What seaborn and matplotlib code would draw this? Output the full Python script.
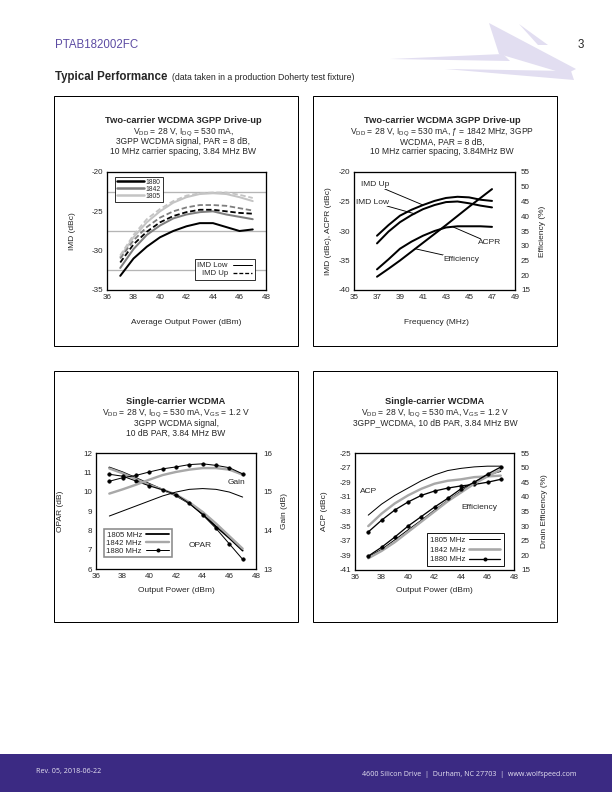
"""
Typical performance page — PTAB182002FC datasheet, page 3
Four drive-up / single-carrier charts laid out as on the printed page.
"""

import matplotlib
matplotlib.use("Agg")
import matplotlib.pyplot as plt
from matplotlib.lines import Line2D
from matplotlib.patches import Rectangle, Polygon
import seaborn as sns

# ---------------------------------------------------------------- data
# chart 1: two-carrier IMD vs average output power
pout = [37, 38, 39, 40, 41, 42, 43, 44, 45, 46, 47]
imd_low_1880 = [-33.2, -31.0, -29.5, -28.3, -27.5, -26.9, -26.5, -26.5, -27.0, -27.5, -27.3]
imd_low_1842 = [-32.2, -29.8, -28.0, -26.8, -25.9, -25.4, -25.1, -25.0, -25.4, -25.7, -26.0]
imd_low_1805 = [-30.8, -28.3, -26.4, -25.0, -23.9, -23.2, -22.8, -22.7, -22.8, -23.2, -23.7]
imd_up_1880 = [-31.5, -29.2, -27.6, -26.4, -25.6, -25.1, -24.8, -24.8, -25.0, -25.2, -25.3]
imd_up_1842 = [-31.0, -28.7, -27.0, -25.8, -25.0, -24.5, -24.2, -24.2, -24.3, -24.6, -24.9]
imd_up_1805 = [-30.6, -28.0, -26.0, -24.7, -23.7, -23.0, -22.7, -22.6, -22.6, -22.9, -23.3]

# chart 2: two-carrier at 1842 MHz
freq_x = [37, 38, 39, 40, 41, 42, 43, 44, 45, 46, 47]
imd_up = [-30.8, -29.0, -27.4, -26.4, -25.6, -24.9, -24.4, -24.2, -24.3, -24.7, -24.9]
imd_low = [-32.1, -30.1, -28.5, -27.3, -26.3, -25.6, -25.1, -25.0, -25.3, -25.7, -26.0]
acpr = [-36.5, -34.8, -33.0, -31.8, -30.8, -30.0, -29.4, -29.2, -29.2, -29.2, -29.3]
efficiency = [19.5, 22.2, 25.0, 28.0, 31.0, 34.0, 37.0, 40.1, 43.2, 46.2, 49.2]

# chart 3: single-carrier OPAR / gain
opar_1805 = [11.25, 11.0, 10.7, 10.4, 10.1, 9.8, 9.4, 8.85, 8.2, 7.6, 6.95]
opar_1842 = [11.2, 10.95, 10.65, 10.35, 10.1, 9.85, 9.45, 8.95, 8.35, 7.7, 7.05]
opar_1880 = [10.9, 10.8, 10.55, 10.3, 10.1, 9.85, 9.4, 8.8, 8.1, 7.3, 6.5]
gain_1805 = [14.37, 14.5, 14.63, 14.76, 14.89, 14.99, 15.06, 15.08, 15.06, 14.99, 14.86]
gain_1842 = [14.95, 15.06, 15.18, 15.31, 15.43, 15.51, 15.57, 15.61, 15.61, 15.57, 15.44]
gain_1880 = [15.27, 15.36, 15.42, 15.51, 15.59, 15.64, 15.70, 15.72, 15.68, 15.62, 15.46]

# chart 4: single-carrier ACP / drain efficiency
acp_1805 = [-33.5, -32.0, -30.8, -29.8, -28.8, -28.0, -27.4, -27.1, -26.9, -26.8, -26.8]
acp_1842 = [-35.0, -33.3, -31.9, -30.8, -29.9, -29.2, -28.8, -28.6, -28.3, -28.2, -28.1]
acp_1880 = [-35.8, -34.2, -32.8, -31.7, -30.8, -30.2, -29.8, -29.5, -29.3, -29.0, -28.6]
deff_1805 = [19.5, 22.0, 25.3, 28.7, 32.0, 35.5, 38.8, 42.0, 45.0, 47.5, 48.7]
deff_1842 = [19.0, 21.5, 24.5, 28.0, 31.5, 35.0, 38.5, 41.5, 44.5, 47.0, 49.3]
deff_1880 = [19.75, 22.75, 26.25, 30.0, 33.25, 36.5, 39.5, 42.75, 45.0, 47.75, 50.2]

BLACK, GRAY, LGRAY = "#000000", "#7f7f7f", "#c4c4c4"
MGRAY = "#a8a8a8"
GRID = "#b5b5b5"
PURPLE = "#3b2a83"

TITLE_FS, SUB_FS, TICK_FS, LABEL_FS, NOTE_FS = 9.3, 8.5, 8.0, 8.4, 8.4

sns.set_style("white")
plt.rcParams["font.family"] = ["Liberation Sans", "DejaVu Sans"]
plt.rcParams["mathtext.default"] = "regular"
plt.rcParams["axes.unicode_minus"] = False

W, H = 612, 792
fig = plt.figure(figsize=(8.5, 11), dpi=72)


def px_axes(l, t, r, b):
    return fig.add_axes([l / W, 1 - b / H, (r - l) / W, (b - t) / H])


def ftext(x, y, s, **kw):
    kw.setdefault("ha", "center")
    kw.setdefault("va", "center")
    fig.text(x / W, 1 - y / H, s, **kw)


def frame(l, t, r, b):
    fig.patches.append(Rectangle((l / W, 1 - b / H), (r - l) / W, (b - t) / H,
                                 transform=fig.transFigure, fill=False,
                                 edgecolor="black", lw=1.0))


def style(ax, xlim, xt, ylim, yt, grid_x, grid_y):
    ax.set_xlim(*xlim)
    ax.set_ylim(*ylim)
    ax.set_xticks(xt)
    ax.set_yticks(yt)
    ax.set_xticks(grid_x, minor=True)
    ax.set_yticks(grid_y, minor=True)
    ax.grid(which="minor", color=GRID, lw=1.3)
    ax.tick_params(which="both", length=0, labelsize=TICK_FS, pad=4)
    for s in ax.spines.values():
        s.set_color("black")
        s.set_linewidth(1.3)
    ax.set_xlabel("")
    ax.set_ylabel("")


def right_axis(ax, lim, ticks, pad):
    ax.set_ylim(*lim)
    ax.set_yticks(ticks)
    ax.tick_params(length=0, labelsize=TICK_FS, pad=pad)
    ax.set_ylabel("")
    for s in ax.spines.values():
        s.set_visible(False)


def line(ax, x, y, color, lw, ls="-", marker=None):
    sns.lineplot(x=x, y=y, ax=ax, color=color, lw=lw, linestyle=ls,
                 marker=marker, markersize=3.4 if marker else 0,
                 markeredgecolor=color, legend=False, zorder=3)


def heading(cx, ty, title, subs):
    ftext(cx, ty, title, fontsize=TITLE_FS, weight="bold")
    for i, s in enumerate(subs):
        ftext(cx, ty + 11.5 + 10 * i, s, fontsize=SUB_FS)


# ---------------------------------------------------------------- page header / footer
ftext(55, 45, "PTAB182002FC", ha="left", fontsize=11.5, color="#5d4ca3")
ftext(584, 45, "3", ha="right", fontsize=11.5)
for pts in ([(390, 59), (503, 54), (510, 61)],
            [(489, 23), (576, 69), (566, 74), (499, 54)],
            [(445, 69), (571, 71), (574, 80)],
            [(519, 24), (548, 45), (538, 45)]):
    fig.patches.append(Polygon([(x / W, 1 - y / H) for x, y in pts], closed=True,
                               transform=fig.transFigure, facecolor="#e2def1",
                               edgecolor="none"))
ftext(55, 77, "Typical Performance", ha="left", fontsize=11.5, weight="bold")
ftext(172, 78, "(data taken in a production Doherty test fixture)", ha="left", fontsize=8.8)

fig.patches.append(Rectangle((0, 0), 1, (H - 754) / H, transform=fig.transFigure,
                             facecolor=PURPLE, edgecolor="none"))
ftext(36, 772, "Rev. 05, 2018-06-22", ha="left", fontsize=7.1, color="#e6e3f2",
      family=["Open Sans", "DejaVu Sans"])
ftext(576, 774, "4600 Silicon Drive  |  Durham, NC 27703  |  www.wolfspeed.com",
      ha="right", fontsize=7.1, color="#e6e3f2", family=["Open Sans", "DejaVu Sans"])

frame(54, 96, 298, 346)
frame(313, 96, 557, 346)
frame(54, 371, 298, 622)
frame(313, 371, 557, 622)

# ---------------------------------------------------------------- chart 1
heading(183, 120.5, "Two-carrier WCDMA 3GPP Drive-up",
        ["V$_{DD}$ = 28 V, I$_{DQ}$ = 530 mA,",
         "3GPP WCDMA signal, PAR = 8 dB,",
         "10 MHz carrier spacing, 3.84 MHz BW"])

ax1 = px_axes(107, 172, 266, 290)
line(ax1, pout, imd_low_1880, BLACK, 2.0)
line(ax1, pout, imd_low_1842, GRAY, 2.0)
line(ax1, pout, imd_low_1805, LGRAY, 2.0)
line(ax1, pout, imd_up_1880, BLACK, 1.8, (0, (3, 1.5)))
line(ax1, pout, imd_up_1842, GRAY, 1.8, (0, (3, 1.5)))
line(ax1, pout, imd_up_1805, LGRAY, 1.8, (0, (3, 1.5)))
style(ax1, (36, 48), range(36, 49, 2), (-35, -20), [-35, -30, -25, -20],
      range(38, 47, 2), [-32.5, -30, -27.5, -25, -22.5])
ftext(73, 231, "IMD (dBc)", fontsize=LABEL_FS, rotation=90)
ftext(186, 322, "Average Output Power (dBm)", fontsize=LABEL_FS)

leg_a = ax1.legend(handles=[Line2D([], [], color=c, lw=2.5) for c in (BLACK, GRAY, LGRAY)],
                   labels=["1880", "1842", "1805"], loc="upper left",
                   bbox_to_anchor=(0.05, 0.96), borderaxespad=0, fontsize=6.8,
                   frameon=True, fancybox=False, framealpha=1, edgecolor="black",
                   handlelength=4.0, handletextpad=0.2, labelspacing=0.0,
                   borderpad=0.3)
leg_a.get_frame().set_linewidth(0.8)
ax1.add_artist(leg_a)
leg_b = ax1.legend(handles=[Line2D([], [], color="black", lw=1),
                            Line2D([], [], color="black", lw=1.3, ls=(0, (3, 1.5)))],
                   labels=["IMD Low", "IMD Up"], loc="lower right",
                   bbox_to_anchor=(0.93, 0.085), borderaxespad=0, fontsize=7.8,
                   frameon=True, fancybox=False, framealpha=1, edgecolor="black",
                   handlelength=2.5, labelspacing=0.05, borderpad=0.35,
                   markerfirst=False, handletextpad=0.6)
leg_b.get_frame().set_linewidth(0.8)

# ---------------------------------------------------------------- chart 2
heading(442, 120.5, "Two-carrier WCDMA 3GPP Drive-up",
        ["V$_{DD}$ = 28 V, I$_{DQ}$ = 530 mA, ƒ = 1842 MHz, 3GPP",
         "WCDMA, PAR = 8 dB,",
         "10 MHz carrier spacing, 3.84MHz BW"])

ax2 = px_axes(354, 172, 515, 290)
ax2r = ax2.twinx()
line(ax2, freq_x, imd_up, BLACK, 2.0)
line(ax2, freq_x, imd_low, BLACK, 2.0)
line(ax2, freq_x, acpr, BLACK, 2.0)
line(ax2r, freq_x, efficiency, BLACK, 2.0)
style(ax2, (35, 49), range(35, 50, 2), (-40, -20), range(-40, -19, 5),
      range(37, 48, 2), [-35, -30, -25])
right_axis(ax2r, (15, 55), range(15, 56, 5), 6)
ftext(329, 231, "IMD (dBc), ACPR (dBc)", fontsize=LABEL_FS, rotation=90)
ftext(543, 231, "Efficiency (%)", fontsize=LABEL_FS, rotation=90)
ftext(436, 322, "Frequency (MHz)", fontsize=LABEL_FS)

arrow = dict(arrowstyle="-", color="black", lw=0.9, shrinkA=0, shrinkB=0)
for label, txt_xy, tip in (("IMD Up", (36.85, -22.2), (41.0, -25.6)),
                           ("IMD Low", (36.65, -25.1), (40.3, -27.1)),
                           ("ACPR", (46.8, -32.0), (43.6, -29.3)),
                           ("Efficiency", (44.3, -34.75), (40.3, -33.0))):
    ax2.annotate(label, xy=tip, xytext=txt_xy, fontsize=NOTE_FS, ha="center", va="center",
                 arrowprops=arrow, zorder=5,
                 bbox=dict(boxstyle="square,pad=0.05", fc="white", ec="none"))

# ---------------------------------------------------------------- chart 3
heading(176, 401.5, "Single-carrier WCDMA",
        ["V$_{DD}$ = 28 V, I$_{DQ}$ = 530 mA, V$_{GS}$ = 1.2 V",
         "3GPP WCDMA signal,",
         "10 dB PAR, 3.84 MHz BW"])

ax3 = px_axes(96, 453, 256, 569)
ax3r = ax3.twinx()
line(ax3, pout, opar_1805, BLACK, 1.8)
line(ax3, pout, opar_1842, MGRAY, 2.4)
line(ax3, pout, opar_1880, BLACK, 1.0, marker="o")
line(ax3r, pout, gain_1805, BLACK, 1.0)
line(ax3r, pout, gain_1842, MGRAY, 2.4)
line(ax3r, pout, gain_1880, BLACK, 1.0, marker="o")
style(ax3, (36, 48), range(36, 49, 2), (6, 12), range(6, 13),
      range(38, 47, 2), range(7, 12))
right_axis(ax3r, (13, 16), [13, 14, 15, 16], 7)
ftext(60, 511, "OPAR (dB)", fontsize=LABEL_FS, rotation=90)
ftext(284, 511, "Gain (dB)", fontsize=LABEL_FS, rotation=90)
ftext(176, 590, "Output Power (dBm)", fontsize=LABEL_FS)
ax3.text(46.5, 10.45, "Gain", fontsize=NOTE_FS, ha="center", va="center")
ax3.text(43.8, 7.24, "OPAR", fontsize=NOTE_FS, ha="center", va="center")

leg_c = ax3.legend(handles=[Line2D([], [], color=BLACK, lw=1.8),
                            Line2D([], [], color=MGRAY, lw=2.4),
                            Line2D([], [], color=BLACK, lw=1.0, marker="o", markersize=3)],
                   labels=["1805 MHz", "1842 MHz", "1880 MHz"], loc="lower left",
                   bbox_to_anchor=(0.05, 0.10), borderaxespad=0, fontsize=7.8,
                   frameon=True, fancybox=False, framealpha=1, edgecolor="#8a8a8a",
                   handlelength=3.0, labelspacing=0.1, borderpad=0.3,
                   markerfirst=False, handletextpad=0.5)
leg_c.get_frame().set_linewidth(1.6)
leg_c.set_zorder(6)

# ---------------------------------------------------------------- chart 4
heading(435, 401.5, "Single-carrier WCDMA",
        ["V$_{DD}$ = 28 V, I$_{DQ}$ = 530 mA, V$_{GS}$ = 1.2 V",
         "3GPP_WCDMA, 10 dB PAR, 3.84 MHz BW"])

ax4 = px_axes(355, 453, 514, 570)
ax4r = ax4.twinx()
line(ax4, pout, acp_1805, BLACK, 1.0)
line(ax4, pout, acp_1842, MGRAY, 2.4)
line(ax4, pout, acp_1880, BLACK, 1.3, marker="o")
line(ax4r, pout, deff_1805, BLACK, 1.0)
line(ax4r, pout, deff_1842, MGRAY, 2.4)
line(ax4r, pout, deff_1880, BLACK, 1.3, marker="o")
style(ax4, (36, 48), range(36, 49, 2), (-41, -25), range(-41, -24, 2),
      range(38, 47, 2), range(-39, -26, 2))
right_axis(ax4r, (15, 55), range(15, 56, 5), 7)
ftext(325, 511, "ACP (dBc)", fontsize=LABEL_FS, rotation=90)
ftext(545, 511, "Drain Efficiency (%)", fontsize=LABEL_FS, rotation=90)
ftext(434, 591, "Output Power (dBm)", fontsize=LABEL_FS)
ax4.text(37.06, -30.2, "ACP", fontsize=NOTE_FS, ha="center", va="center")
ax4.text(45.36, -32.5, "Efficiency", fontsize=NOTE_FS, ha="center", va="center")

leg_d = ax4.legend(handles=[Line2D([], [], color=BLACK, lw=1.0),
                            Line2D([], [], color=MGRAY, lw=2.6),
                            Line2D([], [], color=BLACK, lw=1.3, marker="o", markersize=3)],
                   labels=["1805 MHz", "1842 MHz", "1880 MHz"], loc="lower left",
                   bbox_to_anchor=(0.45, 0.03), borderaxespad=0, fontsize=7.8,
                   frameon=True, fancybox=False, framealpha=1, edgecolor="black",
                   handlelength=4.0, labelspacing=0.3, borderpad=0.4,
                   markerfirst=False, handletextpad=0.5)
leg_d.get_frame().set_linewidth(0.9)
leg_d.set_zorder(6)

fig.savefig("out.png", dpi=72)
